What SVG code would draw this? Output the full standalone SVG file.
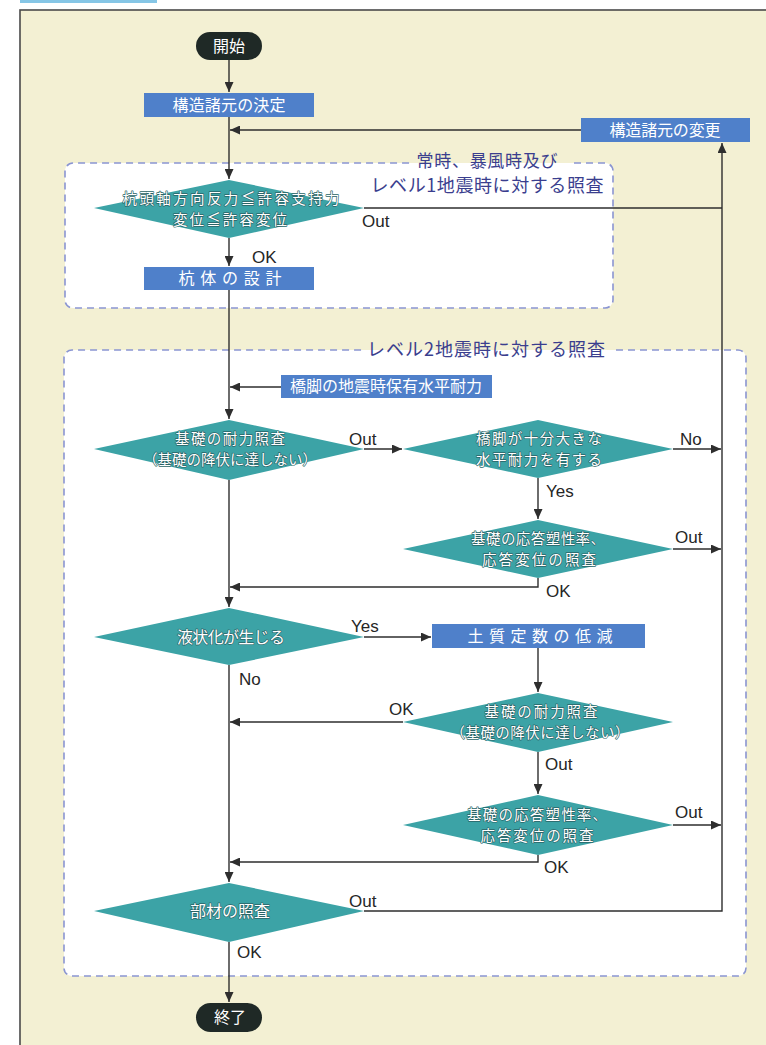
<svg xmlns="http://www.w3.org/2000/svg" width="766" height="1045" viewBox="0 0 766 1045">
<defs>
<marker id="ah" markerUnits="userSpaceOnUse" markerWidth="11" markerHeight="9" refX="10" refY="4.5" orient="auto">
<path d="M0,0 L10,4.5 L0,9 z" fill="#2e2e2e"/>
</marker>
</defs>
<style>
.jp{font-family:"Noto Sans CJK JP","Noto Sans CJK SC",sans-serif;}
.lat{font-family:"Liberation Sans",Arial,sans-serif;font-size:17px;fill:#262626;}
.wt{fill:#ffffff;font-size:16px;text-anchor:middle;}
.dt{fill:#ffffff;font-size:14.5px;text-anchor:middle;stroke:#2a6466;stroke-width:1.3px;paint-order:stroke;stroke-linejoin:round;}
.ttl{fill:#3a3e8e;font-size:18px;text-anchor:middle;}
.box{fill:#4f80ca;}
.dia{fill:#3ca3a6;}
.pill{fill:#1f2926;}
.cn{fill:none;stroke:#2e2e2e;stroke-width:1.4;}
.dash{fill:none;stroke:#8a95d2;stroke-width:1.6;stroke-dasharray:7 5;}
</style>
<rect x="0" y="0" width="766" height="1045" fill="#ffffff"/>
<rect x="20" y="0" width="137" height="3" fill="#86c6e6"/>
<rect x="20" y="10" width="760" height="1050" fill="#f3f0d3" stroke="#4a4a4a" stroke-width="1.6"/>

<g id="frame1">
<rect x="65" y="163" width="548" height="145" rx="8" fill="#ffffff"/>
<path class="dash" d="M574 163 H605 A8 8 0 0 1 613 171 V300 A8 8 0 0 1 605 308 H73 A8 8 0 0 1 65 300 V171 A8 8 0 0 1 73 163 H410"/>
<text class="jp ttl" x="487" y="167" textLength="141" style="font-size:17px">常時、暴風時及び</text>
<text class="jp ttl" x="487" y="192" textLength="233">レベル1地震時に対する照査</text>
</g>
<g id="frame2">
<rect x="64" y="350" width="682" height="626" rx="8" fill="#ffffff"/>
<path class="dash" d="M616 350 H738 A8 8 0 0 1 746 358 V968 A8 8 0 0 1 738 976 H72 A8 8 0 0 1 64 968 V358 A8 8 0 0 1 72 350 H362"/>
<text class="jp ttl" x="486" y="356" textLength="238">レベル2地震時に対する照査</text>
</g>

<g id="connectors">
<path class="cn" d="M229 60 V92" marker-end="url(#ah)"/>
<path class="cn" d="M229 117 V179" marker-end="url(#ah)"/>
<path class="cn" d="M581 130 H230" marker-end="url(#ah)"/>
<path class="cn" d="M364 208 H722"/>
<path class="cn" d="M364 911 H722 V143" marker-end="url(#ah)"/>
<path class="cn" d="M229 238 V266" marker-end="url(#ah)"/>
<path class="cn" d="M229 290 V419" marker-end="url(#ah)"/>
<path class="cn" d="M281 387 H230" marker-end="url(#ah)"/>
<path class="cn" d="M364 449 H402" marker-end="url(#ah)"/>
<path class="cn" d="M673 449 H721" marker-end="url(#ah)"/>
<path class="cn" d="M538 478 V519" marker-end="url(#ah)"/>
<path class="cn" d="M673 549 H721" marker-end="url(#ah)"/>
<path class="cn" d="M538 578 V587 H230" marker-end="url(#ah)"/>
<path class="cn" d="M229 480 V607" marker-end="url(#ah)"/>
<path class="cn" d="M364 637 H431" marker-end="url(#ah)"/>
<path class="cn" d="M538 648 V692" marker-end="url(#ah)"/>
<path class="cn" d="M403 722 H230" marker-end="url(#ah)"/>
<path class="cn" d="M538 752 V794" marker-end="url(#ah)"/>
<path class="cn" d="M673 825 H721" marker-end="url(#ah)"/>
<path class="cn" d="M538 855 V862 H230" marker-end="url(#ah)"/>
<path class="cn" d="M229 665 V882" marker-end="url(#ah)"/>
<path class="cn" d="M229 942 V1002" marker-end="url(#ah)"/>
</g>

<g id="labels">
<text class="lat" x="362" y="227">Out</text>
<text class="lat" x="252" y="263">OK</text>
<text class="lat" x="349" y="445">Out</text>
<text class="lat" x="680" y="445">No</text>
<text class="lat" x="546" y="497">Yes</text>
<text class="lat" x="675" y="543">Out</text>
<text class="lat" x="546" y="597">OK</text>
<text class="lat" x="351" y="632">Yes</text>
<text class="lat" x="239" y="685">No</text>
<text class="lat" x="389" y="715">OK</text>
<text class="lat" x="545" y="770">Out</text>
<text class="lat" x="675" y="818">Out</text>
<text class="lat" x="544" y="873">OK</text>
<text class="lat" x="349" y="907">Out</text>
<text class="lat" x="237" y="958">OK</text>
</g>

<g id="start">
<rect class="pill" x="196" y="32" width="66" height="28" rx="14"/>
<text class="jp wt" x="229" y="52">開始</text>
</g>
<g id="decide">
<rect class="box" x="144" y="93" width="170" height="24"/>
<text class="jp wt" x="229" y="111" textLength="113">構造諸元の決定</text>
</g>
<g id="change">
<rect class="box" x="581" y="118" width="169" height="24"/>
<text class="jp wt" x="665" y="136" textLength="111">構造諸元の変更</text>
</g>
<g id="check1">
<polygon class="dia" points="94,208 229,180 364,208 229,238"/>
<text class="jp dt" x="231" y="204" textLength="217">杭頭軸方向反力≦許容支持力</text>
<text class="jp dt" x="230" y="225" textLength="114">変位≦許容変位</text>
</g>
<g id="pile">
<rect class="box" x="144" y="267" width="170" height="23"/>
<text class="jp wt" x="230" y="284" textLength="103" lengthAdjust="spacing">杭体の設計</text>
</g>
<g id="pier">
<rect class="box" x="281" y="375" width="211" height="23"/>
<text class="jp wt" x="386" y="392" textLength="192">橋脚の地震時保有水平耐力</text>
</g>
<g id="check2">
<polygon class="dia" points="94,449 229,420 364,449 229,480"/>
<text class="jp dt" x="230" y="444" textLength="110">基礎の耐力照査</text>
<text class="jp dt" x="230" y="465" textLength="174">（基礎の降伏に達しない）</text>
</g>
<g id="check3">
<polygon class="dia" points="403,449 538,420 673,449 538,478"/>
<text class="jp dt" x="539" y="444" textLength="126">橋脚が十分大きな</text>
<text class="jp dt" x="539" y="465" textLength="126">水平耐力を有する</text>
</g>
<g id="check4">
<polygon class="dia" points="403,549 538,520 673,549 538,578"/>
<text class="jp dt" x="538" y="544" textLength="134">基礎の応答塑性率、</text>
<text class="jp dt" x="539" y="565" textLength="114">応答変位の照査</text>
</g>
<g id="liq">
<polygon class="dia" points="94,637 229,608 364,637 229,665"/>
<text class="jp dt" x="231" y="643" textLength="108" style="font-size:16px">液状化が生じる</text>
</g>
<g id="soil">
<rect class="box" x="432" y="624" width="213" height="24"/>
<text class="jp wt" x="540" y="642" textLength="145" lengthAdjust="spacing">土質定数の低減</text>
</g>
<g id="check6">
<polygon class="dia" points="403,722 538,693 673,722 538,752"/>
<text class="jp dt" x="541" y="717" textLength="113">基礎の耐力照査</text>
<text class="jp dt" x="540" y="738" textLength="179">（基礎の降伏に達しない）</text>
</g>
<g id="check7">
<polygon class="dia" points="403,825 538,795 673,825 538,855"/>
<text class="jp dt" x="537" y="820" textLength="140">基礎の応答塑性率、</text>
<text class="jp dt" x="537" y="841" textLength="113">応答変位の照査</text>
</g>
<g id="member">
<polygon class="dia" points="94,911 229,883 364,911 229,942"/>
<text class="jp dt" x="230" y="917" textLength="80" style="font-size:16px">部材の照査</text>
</g>
<g id="end">
<rect class="pill" x="196" y="1003" width="66" height="29" rx="14.5"/>
<text class="jp wt" x="230" y="1023">終了</text>
</g>
</svg>
